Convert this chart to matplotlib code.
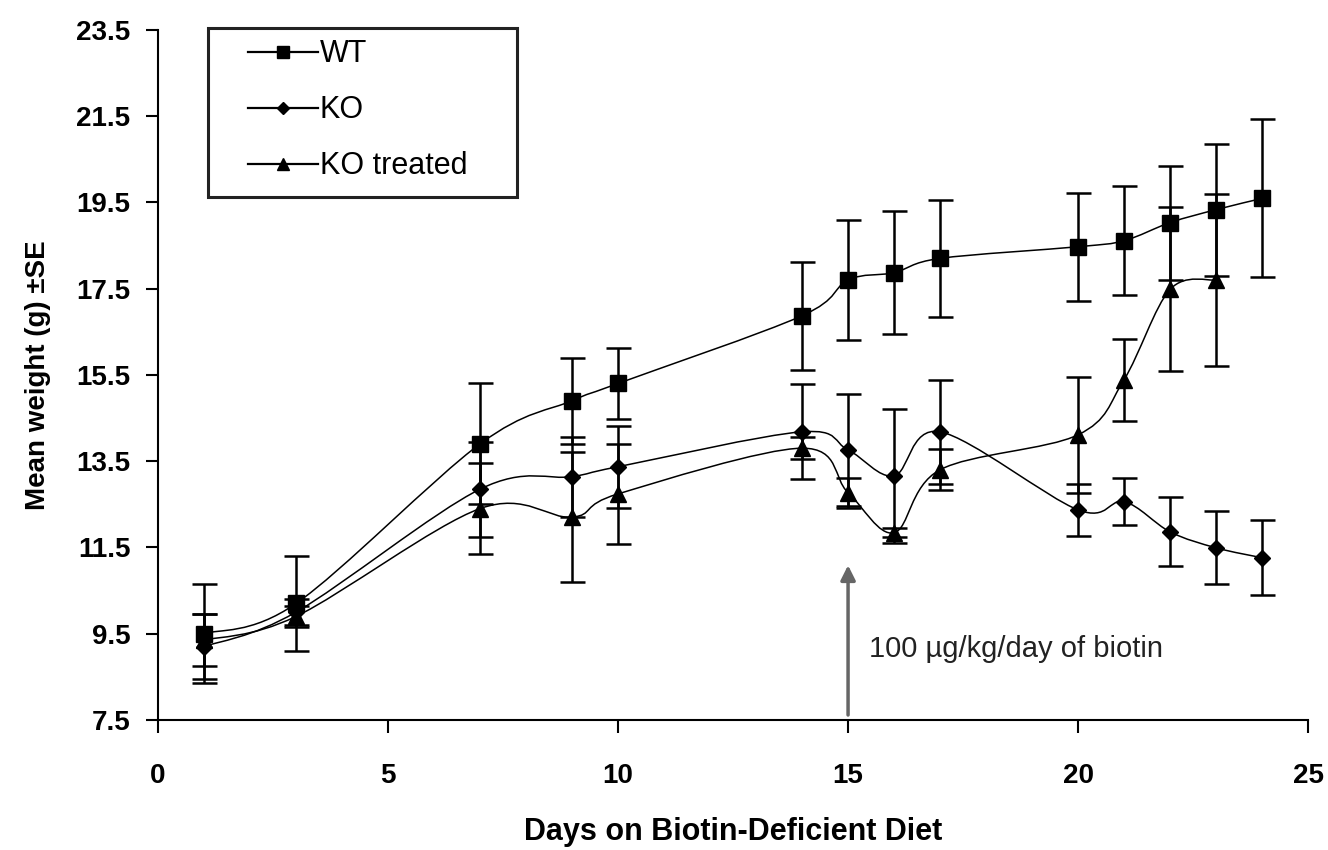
import numpy as np
import matplotlib.pyplot as plt
from matplotlib.path import Path
from matplotlib.patches import PathPatch, Rectangle
from matplotlib.lines import Line2D

plt.rcParams['font.family'] = ['Liberation Sans', 'DejaVu Sans']

days = [1, 3, 7, 9, 10, 14, 15, 16, 17, 20, 21, 22, 23, 24]
days_treated = [1, 3, 7, 9, 10, 14, 15, 16, 17, 20, 21, 22, 23]

wt = [9.5, 10.2, 13.9, 14.9, 15.3, 16.87, 17.7, 17.87, 18.2, 18.47, 18.61, 19.03, 19.33, 19.59]
wt_se = [1.15, 1.1, 1.4, 1.0, 0.83, 1.25, 1.4, 1.43, 1.35, 1.25, 1.27, 1.32, 1.53, 1.83]

ko = [9.2, 10.0, 12.85, 13.14, 13.37, 14.18, 13.76, 13.16, 14.18, 12.37, 12.56, 11.86, 11.49, 11.26]
ko_se = [0.75, 0.3, 1.1, 0.93, 0.95, 1.1, 1.3, 1.55, 1.2, 0.6, 0.55, 0.8, 0.85, 0.87]

ko_t = [9.35, 9.9, 12.4, 12.2, 12.74, 13.8, 12.77, 11.84, 13.3, 14.11, 15.39, 17.48, 17.7]
ko_t_se = [0.6, 0.25, 1.05, 1.5, 1.15, 0.25, 0.35, 0.1, 0.48, 1.35, 0.95, 1.9, 2.0]


def smooth_path(x, y):
    # excel-style smoothed line: cubic bezier segments through the points
    x = np.asarray(x, float)
    y = np.asarray(y, float)
    n = len(x)
    verts = [(x[0], y[0])]
    codes = [Path.MOVETO]
    for i in range(n - 1):
        p0 = np.array([x[max(i - 1, 0)], y[max(i - 1, 0)]])
        p1 = np.array([x[i], y[i]])
        p2 = np.array([x[i + 1], y[i + 1]])
        p3 = np.array([x[min(i + 2, n - 1)], y[min(i + 2, n - 1)]])
        c1 = p1 + (p2 - p0) / 6
        c2 = p2 - (p3 - p1) / 6
        verts += [tuple(c1), tuple(c2), tuple(p2)]
        codes += [Path.CURVE4] * 3
    return Path(verts, codes)


fig = plt.figure(figsize=(13.28, 8.5), dpi=100)
ax = fig.add_axes([0.119, 0.153, 0.866, 0.812])

series = [
    (days, wt, wt_se, 's', 11, 'WT'),
    (days, ko, ko_se, 'D', 8.5, 'KO'),
    (days_treated, ko_t, ko_t_se, '^', 11, 'KO treated'),
]

handles = []
for x, y, se, mk, ms, lab in series:
    ax.add_patch(PathPatch(smooth_path(x, y), facecolor='none',
                           edgecolor='black', lw=1.1, zorder=2))
    ax.errorbar(x, y, yerr=se, fmt='none', ecolor='black', elinewidth=1.8,
                capsize=9, capthick=1.8, zorder=3)
    ax.plot(x, y, linestyle='none', marker=mk, markersize=ms,
            color='black', zorder=4)
    handles.append(Line2D([], [], color='black', lw=1.6, marker=mk,
                          markersize=ms * 0.75, label=lab))

# biotin treatment arrow
ax.annotate('', xy=(15, 11.15), xytext=(15, 7.55),
            arrowprops=dict(arrowstyle='-|>', color='#666666', lw=2.5,
                            mutation_scale=22))
ax.text(15.45, 9.15, '100 µg/kg/day of biotin', fontsize=21,
        va='center', ha='left', color='#222222')

ax.set_xlim(0, 25)
ax.set_ylim(7.5, 23.5)
ax.set_xticks([0, 5, 10, 15, 20, 25])
ax.set_yticks([7.5, 9.5, 11.5, 13.5, 15.5, 17.5, 19.5, 21.5, 23.5])
ax.set_yticklabels(['7.5', '9.5', '11.5', '13.5', '15.5', '17.5', '19.5',
                    '21.5', '23.5'])
ax.tick_params(axis='both', direction='out', length=9, width=1.5,
               labelsize=20)
ax.tick_params(axis='x', pad=22)
ax.tick_params(axis='y', pad=11)
for lbl in ax.get_xticklabels() + ax.get_yticklabels():
    lbl.set_fontweight('bold')

ax.spines['top'].set_visible(False)
ax.spines['right'].set_visible(False)
ax.spines['left'].set_linewidth(1.5)
ax.spines['bottom'].set_linewidth(1.5)

ax.set_xlabel('Days on Biotin-Deficient Diet', fontsize=22,
              fontweight='bold', labelpad=20)
ax.set_ylabel('Mean weight (g) ±SE', fontsize=20, fontweight='bold',
              labelpad=18)

# legend box drawn separately so it can be wider than the entries
ax.add_patch(Rectangle((0.0435, 0.758), 0.2685, 0.245, transform=ax.transAxes,
                       facecolor='white', edgecolor='#222222', lw=2.2,
                       zorder=5, clip_on=False))
leg = ax.legend(handles=handles, loc='upper left',
                bbox_to_anchor=(0.078, 0.986), fontsize=22, frameon=False,
                handlelength=2.3, handletextpad=0.05, labelspacing=0.85,
                borderpad=0, borderaxespad=0)
leg.set_zorder(6)

fig.savefig('out.png', dpi=100)
